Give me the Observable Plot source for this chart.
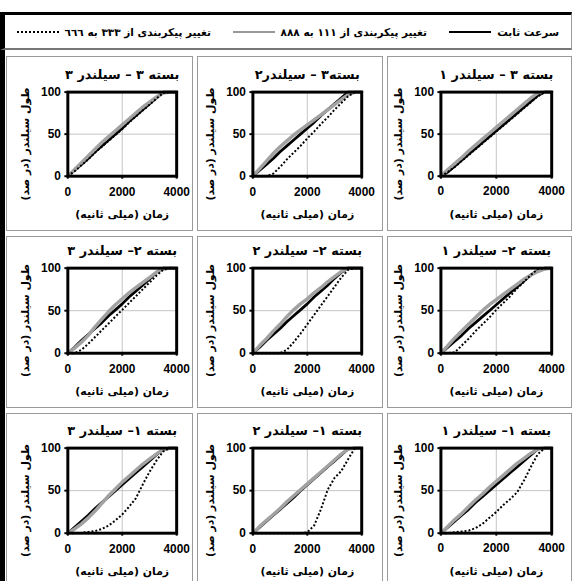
<!DOCTYPE html>
<html><head><meta charset="utf-8">
<script src="https://cdn.jsdelivr.net/npm/d3@7"></script>
<script src="https://cdn.jsdelivr.net/npm/@observablehq/plot@0.6"></script>
<style>
body{margin:0;background:#fff;width:572px;height:581px;overflow:hidden;position:relative;font-family:"DejaVu Sans",sans-serif;}
.cell{position:absolute;box-sizing:border-box;border:1px solid #9a9a9a;overflow:hidden;background:#fff;}
.cell svg{position:absolute;left:-1px;top:-1px;}
#legend{position:absolute;left:0;top:12px;width:572px;height:38px;box-sizing:border-box;border-top:3px solid #000;border-left:5px solid #000;border-bottom:2px solid #777;border-right:1px solid #999;}
#leftbar{position:absolute;left:0;top:50px;width:5px;height:531px;background:#000;}
.item{position:absolute;top:0;height:33px;display:flex;align-items:center;direction:rtl;gap:6px;font-weight:bold;font-size:10.5px;white-space:nowrap;}
.sw{width:42px;height:0;}
</style></head>
<body>
<div id="legend"></div>
<div id="leftbar"></div>
<script>
// ---- data ----
const times = [0,250,500,750,1000,1250,1500,1750,2000,2250,2500,2750,3000,3250,3500,3750,4000];
const seriesNames = ["سرعت ثابت","تغییر پیکربندی از ۱۱۱ به ۸۸۸","تغییر پیکربندی از ۳۳۳ به ٦٦٦"];
const xTicks = [0,2000,4000];
const yTicks = [0,50,100];
const xLabel = "زمان (میلی ثانیه)";
const yLabel = "طول سیلندر (در صد)";
// titles: rows = بسته ۳, ۲, ۱ ; columns left-to-right = سیلندر ۳, ۲, ۱
const titles = [
  ["بسته ۳ – سیلندر ۳","بسته۳ – سیلندر۲","بسته ۳ – سیلندر ۱"],
  ["بسته ۲– سیلندر ۳","بسته ۲– سیلندر ۲","بسته ۲– سیلندر ۱"],
  ["بسته ۱– سیلندر ۳","بسته ۱– سیلندر ۲","بسته ۱– سیلندر ۱"]
];
// بسته ۳
const b3c1Steady = [0,5,12,19,26,33,40,47,54,61,68,75,82,89,96,100,100];
const b3c1Cfg111 = [0,8,15,22,30,37,44,51,58,65,72,79,86,93,99,100,100];
const b3c1Cfg333 = [0,5,11,18,25,32,39,46,53,60,67,74,81,88,95,100,100];
const b3c2Steady = [0,7,14,21,29,36,43,50,57,64,72,79,86,93,100,100,100];
const b3c2Cfg111 = [0,9,18,27,35,42,49,55,61,67,73,79,85,91,97,100,100];
const b3c2Cfg333 = [0,0,0,3,11,20,28,36,45,53,62,70,79,87,95,100,100];
const b3c3Steady = [0,7,14,21,29,36,43,50,57,65,72,79,86,93,100,100,100];
const b3c3Cfg111 = [0,8,16,24,32,40,47,54,61,68,75,82,88,94,99,100,100];
const b3c3Cfg333 = [0,6,13,20,28,35,42,49,56,64,71,78,85,92,99,100,100];
// بسته ۲
const b2c1Steady = [0,7,14,21,29,36,43,50,57,64,71,78,85,92,97,100,100];
const b2c1Cfg111 = [0,9,18,26,34,42,50,57,63,69,75,81,87,92,96,99,100];
const b2c1Cfg333 = [0,0,1,9,17,26,34,42,51,59,67,76,84,92,99,100,100];
const b2c2Steady = [0,7,15,22,29,37,44,51,58,66,73,80,88,95,100,100,100];
const b2c2Cfg111 = [0,9,17,26,34,43,51,58,64,71,77,84,90,96,100,100,100];
const b2c2Cfg333 = [0,0,0,0,0,4,13,23,34,45,56,67,78,89,98,100,100];
const b2c3Steady = [0,7,15,22,29,36,44,51,58,66,73,80,87,95,100,100,100];
const b2c3Cfg111 = [0,6,13,21,31,40,49,57,64,71,77,83,89,95,99,100,100];
const b2c3Cfg333 = [0,0,4,11,19,27,35,43,51,59,67,75,83,91,98,100,100];
// بسته ۱
const b1c1Steady = [0,7,14,21,28,36,43,50,57,64,71,78,85,92,99,100,100];
const b1c1Cfg111 = [0,8,16,23,31,39,46,54,61,68,75,82,88,94,99,100,100];
const b1c1Cfg333 = [0,0,1,2,3,6,11,18,25,33,40,48,62,78,93,100,100];
const b1c2Steady = [0,7,14,21,28,35,42,50,57,64,71,78,85,92,99,100,100];
const b1c2Cfg111 = [0,8,15,22,29,37,44,51,58,65,72,79,86,93,99,100,100];
const b1c2Cfg333 = [0,0,0,0,0,0,0,0,1,9,28,51,65,73,87,100,100];
const b1c3Steady = [0,7,14,21,29,36,43,50,57,64,71,78,85,92,99,100,100];
const b1c3Cfg111 = [0,5,11,18,26,35,44,52,60,67,74,81,87,93,98,100,100];
const b1c3Cfg333 = [0,0,0.5,1.5,2.5,5,9,15,22,31,41,57,72,85,96,100,100];

const grid = [
  [[b3c3Steady,b3c3Cfg111,b3c3Cfg333],[b3c2Steady,b3c2Cfg111,b3c2Cfg333],[b3c1Steady,b3c1Cfg111,b3c1Cfg333]],
  [[b2c3Steady,b2c3Cfg111,b2c3Cfg333],[b2c2Steady,b2c2Cfg111,b2c2Cfg333],[b2c1Steady,b2c1Cfg111,b2c1Cfg333]],
  [[b1c3Steady,b1c3Cfg111,b1c3Cfg333],[b1c2Steady,b1c2Cfg111,b1c2Cfg333],[b1c1Steady,b1c1Cfg111,b1c1Cfg333]]
];

// ---- layout ----
const colLeft = [6,197,387], colWidth = [187,186,185];
const colML = [62,56,54], colMR = [15,20,19];
const rowTop = [56,236,413], rowHeight = [175,172,175];
const rowMT = [36,32,35], rowMB = [54,54,54];
const seriesStyles = [
  {stroke:"#000", strokeWidth:2.8},
  {stroke:"#a2a2a2", strokeWidth:3.5},
  {stroke:"#000", strokeWidth:2, strokeDasharray:"2,2", strokeLinecap:"butt"}
];
const persianFont = '"DejaVu Sans", sans-serif';
const RLM = "\u200F";

// legend
const legend = document.getElementById("legend");
const legendRight = [12, 144, 360];
const swatchCss = ["border-top:2px solid #000","border-top:2.5px solid #999","border-top:2px dotted #000"];
seriesNames.forEach((name, i) => {
  const it = document.createElement("div");
  it.className = "item";
  it.style.right = legendRight[i] + "px";
  it.innerHTML = `<span>${name}</span><span class="sw" style="${swatchCss[i]}"></span>`;
  legend.appendChild(it);
});

function panel(title, series, w, h, m) {
  return Plot.plot({
    width: w, height: h,
    marginLeft: m.l, marginRight: m.r, marginTop: m.t, marginBottom: m.b,
    style: {fontFamily: '"Liberation Sans", Arial, sans-serif', fontSize: "12px", fontWeight: "bold", background: "transparent", overflow: "visible", color: "#000"},
    x: {domain: [0, 4000]},
    y: {domain: [0, 100]},
    marks: [
      Plot.gridX(xTicks, {stroke: "#c4c4c4", strokeOpacity: 1, strokeWidth: 1}),
      Plot.gridY(yTicks, {stroke: "#c4c4c4", strokeOpacity: 1, strokeWidth: 1}),
      ...series.map((vals, i) => Plot.line(vals, {x: (d, j) => times[j], y: d => d, ...seriesStyles[i]})),
      Plot.axisX(xTicks, {tickSize: 3, tickPadding: 8, strokeWidth: 2, tickFormat: d => String(d), label: null}),
      Plot.axisY(yTicks, {tickSize: 3, tickPadding: 4, strokeWidth: 2, tickFormat: d => String(d), label: null}),
      Plot.frame({stroke: "#000", strokeWidth: 3}),
      Plot.text([title], {frameAnchor: "top", dy: -17, lineAnchor: "middle", textAnchor: "middle", fontFamily: persianFont, fontSize: 13, fontWeight: "bold", fill: "#000"}),
      Plot.text([RLM + xLabel + RLM], {frameAnchor: "bottom", dy: 39, lineAnchor: "middle", textAnchor: "middle", fontFamily: persianFont, fontSize: 11, fontWeight: "bold", fill: "#000"}),
      Plot.text([RLM + yLabel + RLM], {frameAnchor: "left", dx: -43, dy: 10, rotate: -90, lineAnchor: "middle", textAnchor: "middle", fontFamily: persianFont, fontSize: 11, fontWeight: "bold", fill: "#000"})
    ]
  });
}

for (let r = 0; r < 3; r++) {
  for (let c = 0; c < 3; c++) {
    const cell = document.createElement("div");
    cell.className = "cell";
    cell.style.left = colLeft[c] + "px";
    cell.style.top = rowTop[r] + "px";
    cell.style.width = colWidth[c] + "px";
    cell.style.height = rowHeight[r] + "px";
    cell.appendChild(panel(titles[r][c], grid[r][c], colWidth[c], rowHeight[r],
      {l: colML[c], r: colMR[c], t: rowMT[r], b: rowMB[r]}));
    document.body.appendChild(cell);
  }
}
</script>
</body></html>
